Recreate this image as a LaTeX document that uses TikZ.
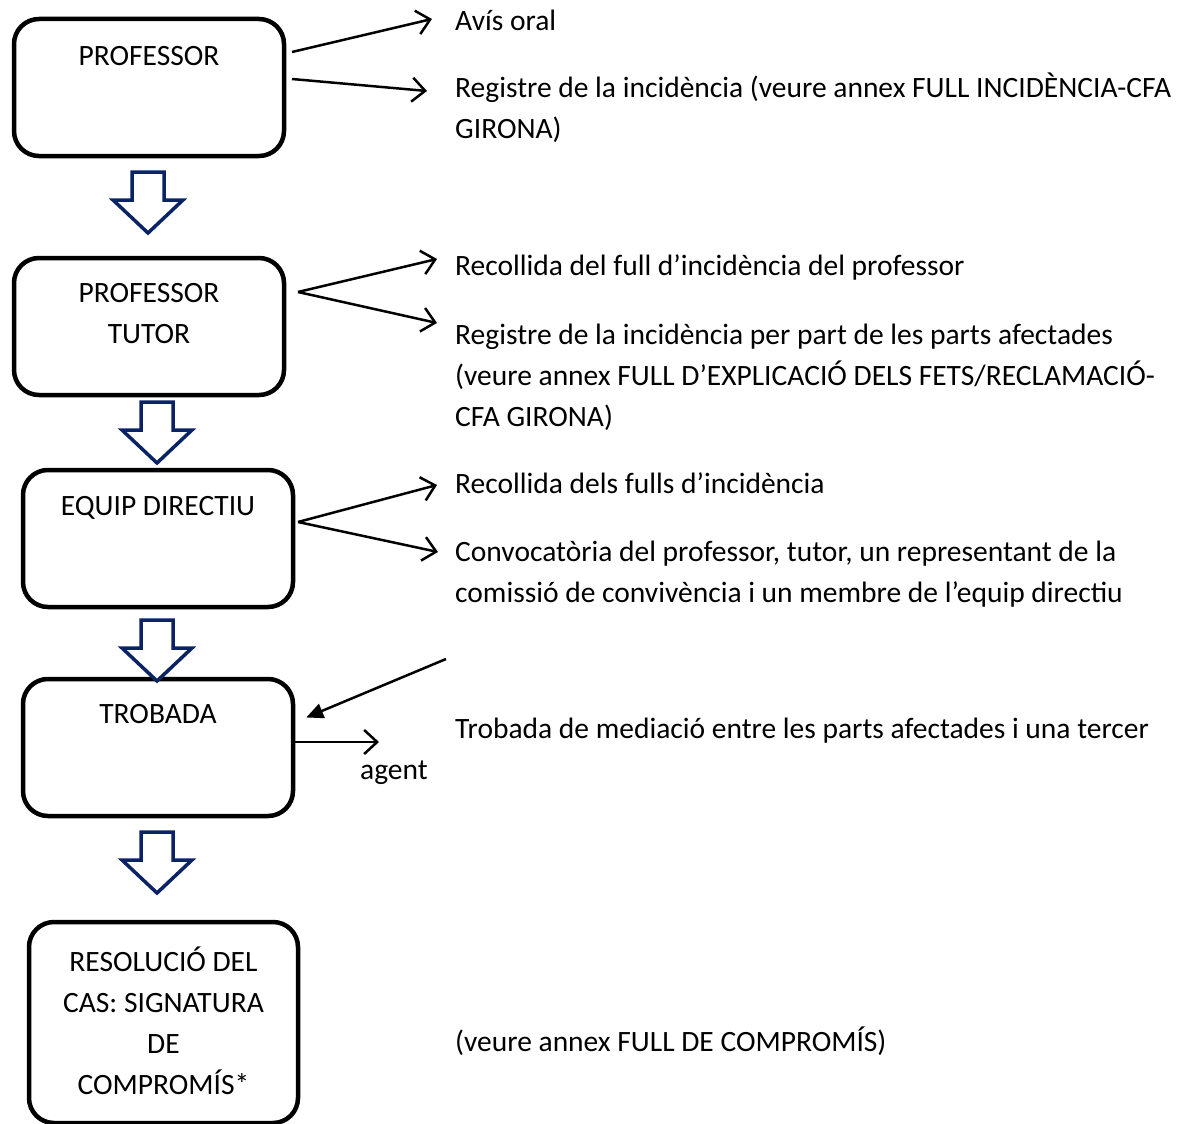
\documentclass[tikz,border=0pt]{standalone}
\usepackage{fontspec}
\setmainfont{Carlito}
\usetikzlibrary{arrows.meta,positioning}
\definecolor{blaufosc}{RGB}{10,35,100}

\tikzset{
	caixa/.style={draw, line width=4.5pt, rounded corners=25pt, minimum width=270pt, minimum height=137pt},
	titol/.style={anchor=base, align=center, inner sep=0pt},
	nota/.style={anchor=base west, align=left, inner sep=0pt},
	fletxa/.style={line width=2.5pt, -{Straight Barb[length=13pt,width=24pt]}},
	blocfletxa/.pic={\draw[blaufosc, line width=3.5pt, fill=white, line join=miter]
		(-16,0) -- (16,0) -- (16,28) -- (35,28) -- (0,61) -- (-35,28) -- (-16,28) -- cycle;}
}

\begin{document}
\begin{tikzpicture}[x=1pt, y=-1pt, font=\fontsize{29.5}{41}\selectfont]
			\useasboundingbox (0,0) rectangle (1184,1124);
			% caixes
			\node[caixa] (prof) at (149,87.5) {};
			\node[caixa] (tutor) at (149,326.5) {};
			\node[caixa] (equip) at (158,538.5) {};
			\node[caixa] (trobada) at (158,747.5) {};
			\node[caixa, minimum width=269pt, minimum height=201pt] (resol) at (163.5,1022.5) {};
			\node[titol] at ([yshift=-49pt]prof.north) {PROFESSOR};
			\node[titol] at ([yshift=-88pt]tutor.north) {PROFESSOR\\TUTOR};
			\node[titol] at ([yshift=-48pt]equip.north) {EQUIP DIRECTIU};
			\node[titol] at ([yshift=-47pt]trobada.north) {TROBADA};
			\node[titol] at ([yshift=-175pt]resol.north) {RESOLUCIÓ DEL\\CAS: SIGNATURA\\DE\\COMPROMÍS*};
			% fletxes grosses
			\pic at (148,172) {blocfletxa};
			\pic at (157,402) {blocfletxa};
			\pic at (157,620) {blocfletxa};
			\pic at (157,832) {blocfletxa};
			% textos (base = darrera linia)
			\node[nota] (t1) at (455,31) {Avís oral};
			\node[nota] (t2) at (455,139) {Registre de la incidència (veure annex FULL INCIDÈNCIA-CFA\\GIRONA)};
			\node[nota] (t3) at (455,275) {Recollida del full d’incidència del professor};
			\node[nota] (t4) at (455,426) {Registre de la incidència per part de les parts afectades\\(veure annex FULL D’EXPLICACIÓ DELS FETS/RECLAMACIÓ-\\CFA GIRONA)};
			\node[nota] (t5) at (455,493) {Recollida dels fulls d’incidència};
			\node[nota] (t6) at (455,602) {Convocatòria del professor, tutor, un representant de la\\comissió de convivència i un membre de l’equip directiu};
			\node[nota] (t7) at (455,738) {Trobada de mediació entre les parts afectades i una tercer};
			\node[nota] (agent) at (360,779) {agent};
			\node[nota] (t8) at (455,1051) {(veure annex FULL DE COMPROMÍS)};
			% fletxes
			\coordinate (o1a) at (292,52);
			\coordinate (o1b) at (292,79);
			\coordinate (o2) at (298,292);
			\coordinate (o3) at (298,522);
			\coordinate (o4) at (446,659);
			\draw[fletxa] (o1a) -- ([shift={(-23,-12)}]t1.base west);
			\draw[fletxa] (o1b) -- ([shift={(-28,-48)}]t2.base west);
			\draw[fletxa] (o2) -- ([shift={(-18,-16)}]t3.base west);
			\draw[fletxa] (o2) -- ([shift={(-18,-103)}]t4.base west);
			\draw[fletxa] (o3) -- ([shift={(-18,-8)}]t5.base west);
			\draw[fletxa] (o3) -- ([shift={(-17,-50)}]t6.base west);
			\draw[line width=2.5pt, -{Triangle[length=17pt,width=15pt]}] (o4) -- ([shift={(11,-30)}]trobada.east);
			\draw[fletxa] ([yshift=5.5pt]trobada.east) -- ([shift={(19,-37)}]agent.base west);
\end{tikzpicture}
\end{document}
